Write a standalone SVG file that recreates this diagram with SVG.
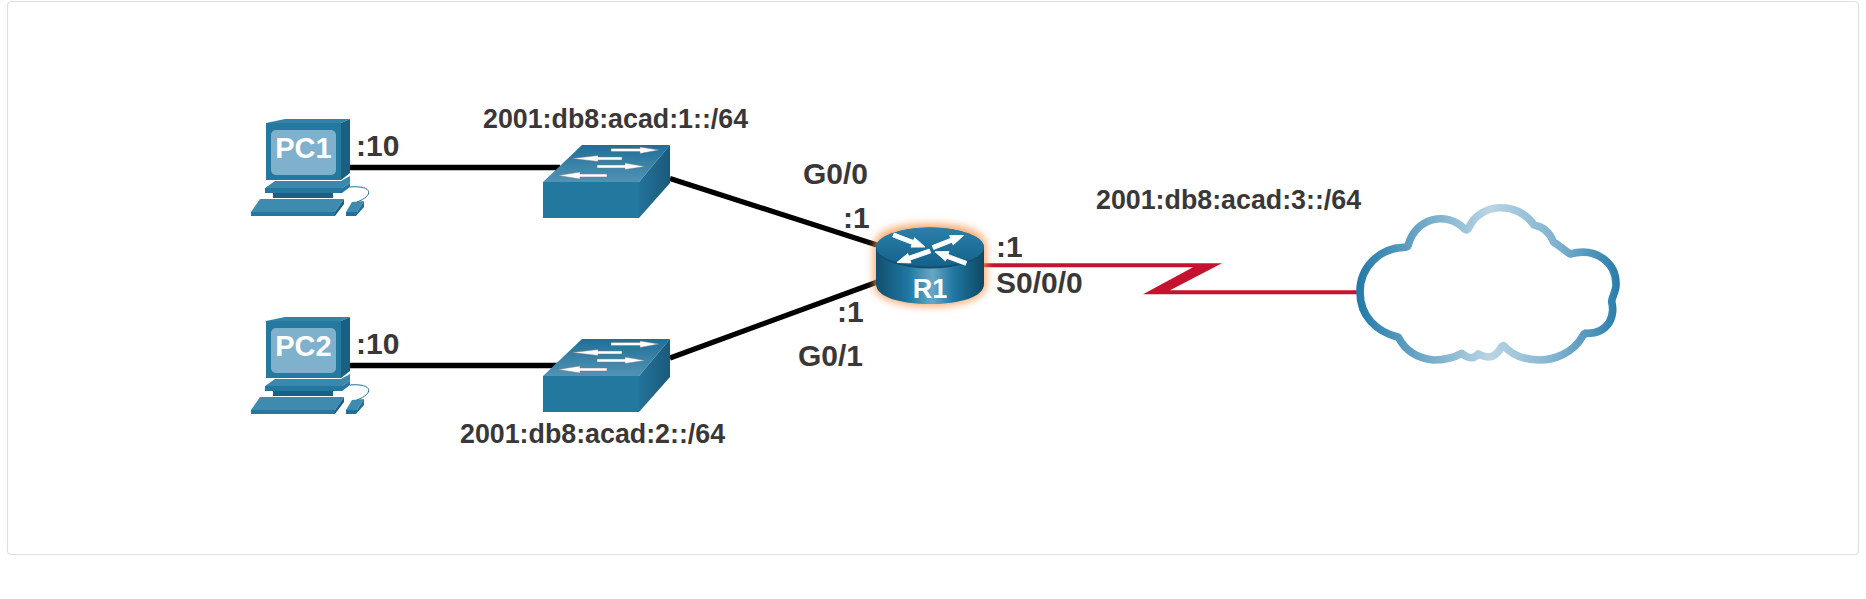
<svg xmlns="http://www.w3.org/2000/svg" xmlns:xlink="http://www.w3.org/1999/xlink" width="1866" height="599" viewBox="0 0 1866 599">
<style>
.lbl{font-family:"Liberation Sans",Arial,sans-serif;font-weight:700;font-size:26.8px;fill:#3a3738}
.big{font-size:30px}
.dev{font-family:"Liberation Sans",Arial,sans-serif;font-weight:700;fill:#fff;text-anchor:middle}
.eth{stroke:#000;stroke-width:5.3;fill:none}
.arw{fill:#fff;stroke:#77797a;stroke-width:.5}
.rar{fill:#fff;stroke:#fff;stroke-width:.9;stroke-linejoin:round}
</style>
<defs>
<linearGradient id="swTop" x1="0" y1="0" x2="0" y2="1"><stop offset="0" stop-color="#1f6f98"/><stop offset="1" stop-color="#5193b5"/></linearGradient>
<linearGradient id="swSide" x1="0" y1="0" x2="1" y2="0"><stop offset="0" stop-color="#24729b"/><stop offset="1" stop-color="#195a7a"/></linearGradient>
<linearGradient id="rSide" x1="0" y1="0" x2="1" y2="0"><stop offset="0" stop-color="#124f70"/><stop offset=".3" stop-color="#1f77a2"/><stop offset=".52" stop-color="#6ba6c4"/><stop offset=".72" stop-color="#1f77a2"/><stop offset="1" stop-color="#0f4763"/></linearGradient>
<linearGradient id="rTop" x1="0" y1="0" x2="0" y2="1"><stop offset="0" stop-color="#2a80aa"/><stop offset="1" stop-color="#14618a"/></linearGradient>
<linearGradient id="cloudG" gradientUnits="userSpaceOnUse" x1="50" y1="0" x2="850" y2="0"><stop offset="0" stop-color="#2279a8"/><stop offset=".25" stop-color="#6fa9c8"/><stop offset=".5" stop-color="#b8d5e4"/><stop offset=".75" stop-color="#7fb2cf"/><stop offset="1" stop-color="#2279a8"/></linearGradient>
<filter id="glow" x="-25%" y="-30%" width="150%" height="160%"><feGaussianBlur stdDeviation="4"/></filter>
<g id="pcIcon">
<path d="M266 123L285 119H350L341 123Z" fill="#3382aa"/>
<path d="M341 123L350 119V173L341 180Z" fill="#1b5f82"/>
<rect x="266" y="123" width="75" height="57" fill="#24799f"/>
<rect x="271" y="130" width="65" height="45" rx="5" fill="#7fb1cd"/>
<path d="M265 188L275 181H341L350 176V183L342 188Z" fill="#3b88ae"/>
<path d="M265 188H342L350 183V187L342 193H265Z" fill="#24779f"/>
<path d="M273 193H333V198H273Z" fill="#1c5f84"/>
<path d="M260 199H344L335 212H251Z" fill="#3f8bb0"/>
<path d="M251 212H335V216H251Z" fill="#24779f"/>
<path d="M335 212L344 199V204L335 216Z" fill="#1c5f84"/>
<path d="M346 212L352 202L364 201L357 212Z" fill="#3f8bb0"/>
<path d="M346 212H357L364 201V207L356 216H346Z" fill="#1f6f98"/>
<path d="M350 187C372 185 375 195 357 202" fill="none" stroke="#1f6f98" stroke-width="1"/>
</g>
<g id="swIcon">
<path d="M582 145H670L639 182H543Z" fill="url(#swTop)"/>
<path d="M670 145V183L639 218V182Z" fill="url(#swSide)"/>
<rect x="543" y="182" width="96" height="36" fill="#23789f"/>
<path class="arw" d="M611 148.500H640V147L659 150L640 153.500V151.500H611Z"/>
<path class="arw" d="M622 157H598V155.500L572 158.500L598 161.500V160H622Z"/>
<path class="arw" d="M597 165H625V163L645 166.500L625 169.500V168H597Z"/>
<path class="arw" d="M607 174H580V172L558 175.500L580 179V177H607Z"/>
</g>
</defs>
<rect width="1866" height="599" fill="#fff"/>
<rect id="frame" x="7.500" y="1.500" width="1851" height="553" rx="4" fill="#fff" stroke="#dfdfdf" stroke-width="1.200"/>
<g id="connectors">
<path class="eth" d="M350 167.500H560"/>
<path class="eth" d="M350 365.500H560"/>
<path class="eth" d="M670 178.500L880 246"/>
<path class="eth" d="M670 358L880 281"/>
<path d="M984 263.200H1222L1170 290.300H1358V294.300H1143L1193 267.300H984Z" fill="#c4122f"/>
</g>
<g id="PC1">
<use href="#pcIcon" xlink:href="#pcIcon"/>
<text class="dev" x="303.500" y="158" font-size="29">PC1</text>
</g>
<g id="PC2">
<use href="#pcIcon" xlink:href="#pcIcon" y="198"/>
<text class="dev" x="303.500" y="356" font-size="29">PC2</text>
</g>
<g id="S1"><use href="#swIcon" xlink:href="#swIcon"/></g>
<g id="S2"><use href="#swIcon" xlink:href="#swIcon" y="194"/></g>
<g id="R1">
<path d="M876 247C876 232 900 226 930 226S984 232 984 247V284C984 297 960 304 930 304S876 297 876 284Z" fill="#f79a55" stroke="#f79a55" stroke-width="4" opacity=".9" filter="url(#glow)"/>
<path d="M876 248V284C876 297 900 304 930 304S984 297 984 284V248Z" fill="url(#rSide)"/>
<ellipse cx="930" cy="248" rx="54" ry="20.500" fill="#124f70"/>
<ellipse cx="930" cy="247" rx="54" ry="19.500" fill="url(#rTop)"/>
<path class="rar" d="M892.800 236.900L912.100 244.300L911 247.100L925 247L914.600 237.700L913.500 240.500L894.200 233.100Z"/>
<path class="rar" d="M933.700 249.400L952.100 242.200L953.200 244.900L963.500 235.500L949.600 235.600L950.700 238.400L932.300 245.600Z"/>
<path class="rar" d="M930.700 252.900L910 260.100L911 262.900L897 262.500L907.700 253.500L908.600 256.300L929.300 249.100Z"/>
<path class="rar" d="M965.300 265.200L946.500 258.200L945.500 261L935 251.700L949 251.600L947.900 254.400L966.700 261.400Z"/>
<text class="dev" x="930" y="297.500" font-size="27">R1</text>
</g>
<g id="cloud">
<path transform="translate(1340 190) scale(.33333)" d="M60 305C60 230 120 175 190 172C198 172 203 170 205 165C225 85 320 60 375 118C380 122 384 118 387 112C420 40 530 30 582 105C610 110 630 130 640 155L690 192C770 170 830 220 828 285C828 305 815 322 815 335C825 375 810 430 740 430C735 428 732 432 728 438C700 490 640 510 600 510C560 510 520 500 492 468C485 462 480 482 470 490C450 510 430 498 415 492C400 510 385 505 365 490C330 510 300 510 280 510C230 505 195 480 175 442C110 425 60 380 60 305Z" fill="#fff" stroke="url(#cloudG)" stroke-width="23" stroke-linejoin="round"/>
</g>
<g id="labels">
<text class="lbl" x="483" y="127.500">2001:db8:acad:1::/64</text>
<text class="lbl" x="460" y="443">2001:db8:acad:2::/64</text>
<text class="lbl" x="1096" y="209">2001:db8:acad:3::/64</text>
<text class="lbl big" x="356" y="156">:10</text>
<text class="lbl big" x="356" y="354">:10</text>
<text class="lbl big" x="803" y="184">G0/0</text>
<text class="lbl big" x="843" y="227.500">:1</text>
<text class="lbl big" x="837" y="321.500">:1</text>
<text class="lbl big" x="798" y="366">G0/1</text>
<text class="lbl big" x="996" y="257">:1</text>
<text class="lbl big" x="996" y="293">S0/0/0</text>
</g>
</svg>
